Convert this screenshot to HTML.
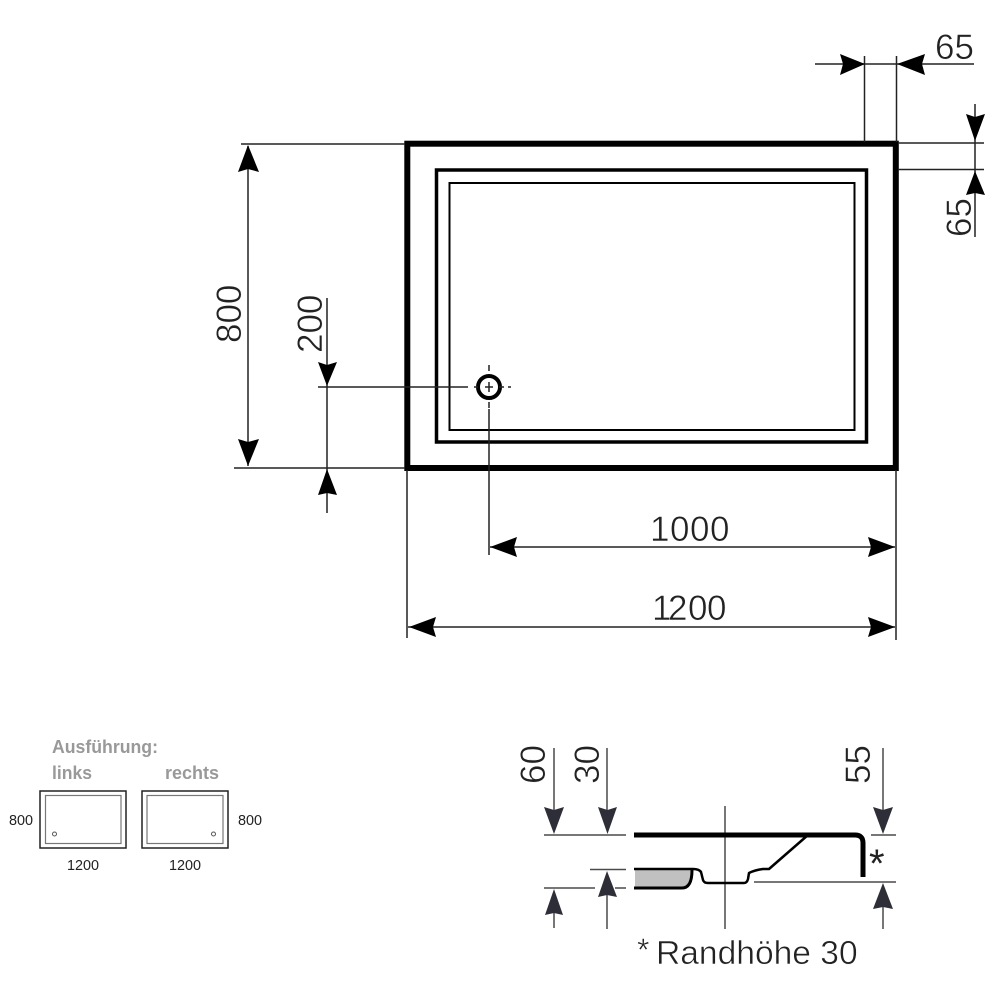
<!DOCTYPE html>
<html><head><meta charset="utf-8"><style>
html,body{margin:0;padding:0;background:#fff}
svg{display:block}
text{font-family:"Liberation Sans",sans-serif;fill:#222;font-kerning:none}
.big text{stroke:#fff;stroke-width:.5px}
</style></head><body>
<svg width="1000" height="1000" viewBox="0 0 1000 1000" xmlns="http://www.w3.org/2000/svg">
<rect width="1000" height="1000" fill="#fff"/>
<!-- plan -->
<g fill="none" stroke="#000">
<rect x="407.300" y="143.700" width="488.500" height="324.300" stroke-width="6"/>
<rect x="436.500" y="170" width="430" height="272" stroke-width="3.500"/>
<rect x="449.500" y="183" width="405" height="247" stroke-width="2"/>
<circle cx="489" cy="387" r="11" stroke-width="4"/>
</g>
<g fill="none" stroke="#222" stroke-width="1.500">
<path d="M864.500 56V142M896.500 56V142M815 64H974"/>
<path d="M898 143H984M898 169.500H984M975 104V237"/>
<path d="M241 144H405M234 468H405M248 146V466"/>
<path d="M327 298V513M318 387H468M474 387H478M485 387H493M499 387H504M508 387H511"/>
<path d="M489 365V371M489 382V392M489 402V408M489 409V555"/>
<path d="M407 470V638M896 470V640M490 547H895M408 627H895"/>
</g>
<!-- plan arrowheads -->
<g fill="#000">
<path d="M865 64L840 54L843 64L840 75Z"/>
<path d="M897 64L925 54L922 64L925 75Z"/>
<path d="M975 141L966 114L975 117L985 114Z"/>
<path d="M975 171L966 195L975 193L985 195Z"/>
<path d="M248 145L238 172L248 169L259 172Z"/>
<path d="M248 466L238 439L248 442L259 439Z"/>
<path d="M327 386L318 362L327 365L337 362Z"/>
<path d="M327 469L318 495L327 493L337 495Z"/>
<path d="M490 547L517 537L514 547L517 557Z"/>
<path d="M895 547L868 537L871 547L868 557Z"/>
<path d="M409 627L436 617L433 627L436 637Z"/>
<path d="M895 627L868 617L871 627L868 637Z"/>
</g>
<!-- plan labels -->
<g font-size="35" class="big">
<text x="935" y="59">65</text>
<text x="650 670 690 710" y="541">1000</text>
<text x="652 668 688 707" y="620">1200</text>
<text transform="translate(241,343) rotate(-90)">800</text>
<text transform="translate(322,353) rotate(-90)">200</text>
<text transform="translate(971,237) rotate(-90)">65</text>
<text transform="translate(545,784) rotate(-90)">60</text>
<text transform="translate(599,784) rotate(-90)">30</text>
<text transform="translate(870,784) rotate(-90)">55</text>
</g>
<!-- section -->
<g fill="none" stroke="#4a4a4a" stroke-width="1.500">
<path d="M544 835H626M871 835H896M590 869.500H626M544 888H595M615 888H626M754 882H896"/>
<path d="M554 748V815M607 748V815M883 748V815"/>
<path d="M607 890V929M554 905V928M883 900V929M725 806V929"/>
</g>
<g fill="#2e2e38">
<path d="M554 834L544 807L554 810L564 807Z"/>
<path d="M607.500 834L598 807L607.500 810L617 807Z"/>
<path d="M883 834L873 807L883 810L893 807Z"/>
<path d="M607 871L598 897L607 895L617 897Z"/>
<path d="M554 889L545 915L554 913L563 915Z"/>
<path d="M883 883L873 909L883 907L893 909Z"/>
</g>
<path d="M635 870H692L690 882L684 887H635Z" fill="#c0c0c0"/>
<g fill="none" stroke="#000" stroke-linejoin="round">
<path d="M634 835H855Q863 835 863 843V877" stroke-width="5"/>
<path d="M634 869H693Q699 869 701 872L703 880Q704 883 708 883H744Q747 883 748 879L749 873Q755 870 763 869H769L808 835" stroke-width="2.500"/>
<path d="M692 870Q692 888 682 888H634" stroke-width="3"/>
</g>
<text x="869" y="877" font-size="40">*</text>
<g class="big">
<text x="637" y="961" font-size="32">*</text>
<text x="656" y="964" font-size="33.600">Randhöhe 30</text>
</g>
<!-- small variants -->
<g font-size="18" font-weight="bold">
<text x="52" y="753" textLength="106" lengthAdjust="spacingAndGlyphs" style="fill:#999">Ausführung:</text>
<text x="52" y="779" textLength="40" lengthAdjust="spacingAndGlyphs" style="fill:#999">links</text>
<text x="165" y="779" textLength="54" lengthAdjust="spacingAndGlyphs" style="fill:#999">rechts</text>
</g>
<g fill="none">
<rect x="40" y="791" width="86" height="57" stroke="#222" stroke-width="1.500"/>
<rect x="45.500" y="795.500" width="75.500" height="48" stroke="#777" stroke-width="1.200"/>
<circle cx="54.500" cy="834" r="2" stroke="#555"/>
<rect x="142" y="791" width="86" height="57" stroke="#222" stroke-width="1.500"/>
<rect x="147" y="795.500" width="76" height="48" stroke="#777" stroke-width="1.200"/>
<circle cx="213.500" cy="834" r="2" stroke="#555"/>
</g>
<g font-size="14.400" style="fill:#333">
<text x="9" y="825">800</text>
<text x="238" y="825">800</text>
<text x="67" y="870">1200</text>
<text x="169" y="870">1200</text>
</g>
</svg>
</body></html>
